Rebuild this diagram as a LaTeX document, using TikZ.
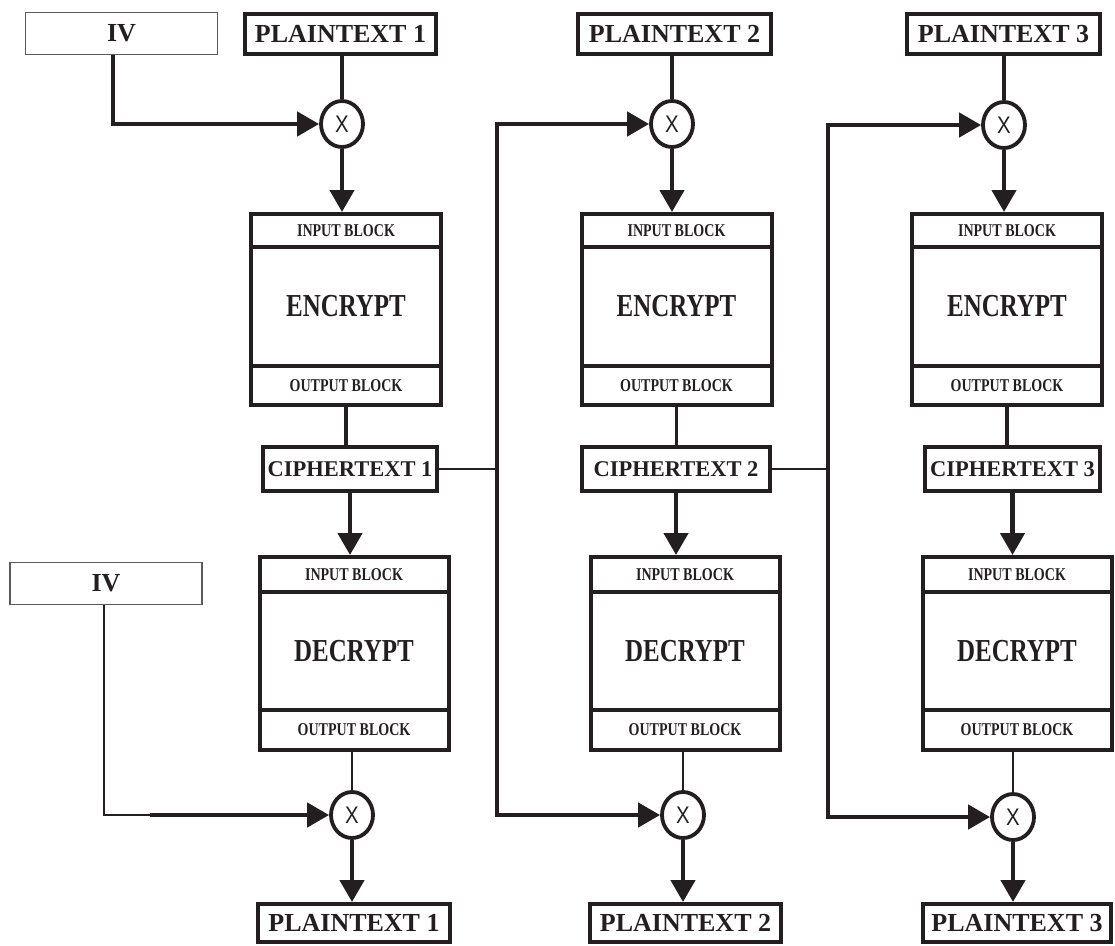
\documentclass[tikz,border=0pt]{standalone}
\usepackage{fontspec}
\setmainfont{Liberation Serif}
\newfontfamily\condfont[FakeStretch=0.78]{Liberation Serif}
\newfontfamily\xorfont[FakeStretch=0.85]{Liberation Sans}
\usetikzlibrary{arrows.meta,shapes.geometric}
\definecolor{ink}{RGB}{35,31,32}
\definecolor{thinink}{RGB}{90,90,90}
\tikzset{
 blk/.style={draw=ink, line width=4pt, inner sep=0pt, rectangle, text=ink},
 ptbox/.style={blk, minimum height=40pt, font=\fontsize{26}{30}\selectfont\bfseries},
 ctbox/.style={blk, minimum height=44pt, font=\fontsize{22.5}{26}\selectfont\bfseries},
 ivbox/.style={draw=thinink, line width=1.2pt, inner sep=0pt, minimum width=192pt, minimum height=42pt, font=\fontsize{26}{30}\selectfont\bfseries, text=ink},
 subblk/.style={blk, font=\condfont\fontsize{18}{20}\selectfont\bfseries},
 mainblk/.style={blk, font=\condfont\fontsize{32}{34}\selectfont\bfseries},
 xor/.style={ellipse, draw=ink, line width=3.8pt, minimum width=42pt, minimum height=46pt, inner sep=0pt, font=\xorfont\fontsize{24}{26}\selectfont, text=ink},
 wire/.style={draw=ink, line width=4.5pt},
 midwire/.style={draw=ink, line width=3.2pt},
 arr/.style={wire, -{Triangle[length=22pt,width=24pt]}},
 thinwire/.style={draw=ink, line width=1.6pt},
}
\begin{document}
\begin{tikzpicture}[x=1pt,y=-1pt]
\useasboundingbox (0,0) rectangle (1115,945);
% ---------- top row ----------
\node[ivbox] (ivA) at (121.5,33.5) {IV};
\node[ptbox, minimum width=191pt] (ptA1) at (340.5,34) {PLAINTEXT 1};
\node[ptbox, minimum width=193pt] (ptA2) at (674.5,34) {PLAINTEXT 2};
\node[ptbox, minimum width=193pt] (ptA3) at (1003.5,34) {PLAINTEXT 3};
\node[xor] (c1) at (342,124) {X};
\node[xor] (c2) at (672,124) {X};
\node[xor] (c3) at (1004,125) {X};
% ---------- encrypt blocks ----------
\foreach \i/\x in {1/346,2/676.5,3/1007}{
 \node[subblk, minimum width=190pt, minimum height=33pt] (inA\i) at (\x,230.5) {INPUT BLOCK};
 \node[mainblk, minimum width=190pt, minimum height=119pt] (encA\i) at (\x,306.5) {ENCRYPT};
 \node[subblk, minimum width=190pt, minimum height=39pt] (outA\i) at (\x,385.5) {OUTPUT BLOCK};
}
% ---------- ciphertexts ----------
\node[ctbox, minimum width=174pt] (ct1) at (350,469) {CIPHERTEXT 1};
\node[ctbox, minimum width=188pt] (ct2) at (676,469) {CIPHERTEXT 2};
\node[ctbox, minimum width=175pt] (ct3) at (1012.5,469) {CIPHERTEXT 3};
% ---------- decrypt blocks ----------
\foreach \i/\x in {1/354,2/685,3/1017}{
 \node[subblk, minimum width=189pt, minimum height=35pt] (inB\i) at (\x,574.5) {INPUT BLOCK};
 \node[mainblk, minimum width=189pt, minimum height=118pt] (decB\i) at (\x,651) {DECRYPT};
 \node[subblk, minimum width=189pt, minimum height=40pt] (outB\i) at (\x,730) {OUTPUT BLOCK};
}
\node[ivbox] (ivB) at (106,583.5) {IV};
\node[xor] (b1) at (352,815) {X};
\node[xor] (b2) at (683,815) {X};
\node[xor] (b3) at (1013,817) {X};
\node[ptbox, minimum width=192pt, minimum height=38pt] (ptB1) at (354,923) {PLAINTEXT 1};
\node[ptbox, minimum width=191pt, minimum height=38pt] (ptB2) at (685.5,923) {PLAINTEXT 2};
\node[ptbox, minimum width=188pt, minimum height=38pt] (ptB3) at (1017,923) {PLAINTEXT 3};
% ---------- connectors ----------
\foreach \i in {1,2,3}{
 \draw[midwire] (c\i.north |- ptA\i.south) -- (c\i.north);
 \draw[arr] (c\i.south) -- (c\i.south |- inA\i.north);
 \draw[midwire] (outA\i.south) -- (outA\i.south |- ct\i.north);
 \draw[arr] (ct\i.south) -- (ct\i.south |- inB\i.north);
 \draw[thinwire, line width=2.8pt] (b\i.north |- outB\i.south) -- (b\i.north);
 \draw[arr] (b\i.south) -- (b\i.south |- ptB\i.north);
}
% IV (encryption)
\draw[arr] ([xshift=-8.5pt]ivA.south) |- (c1.west);
% IV (decryption)
\coordinate (k1) at (150,815);
\draw[thinwire] ([xshift=-2pt]ivB.south) |- (k1);
\draw[arr] (k1) -- (b1.west);
% chaining lines
\coordinate (j1) at (497,469);
\coordinate (j2) at (828,469);
\draw[thinwire, line width=2.6pt] (ct1.east) -- (j1);
\draw[arr] (j1) |- (c2.west);
\draw[arr] (j1) |- (b2.west);
\draw[thinwire, line width=2.6pt] (ct2.east) -- (j2);
\draw[arr] (j2) |- (c3.west);
\draw[arr] (j2) |- (b3.west);
\end{tikzpicture}
\end{document}
